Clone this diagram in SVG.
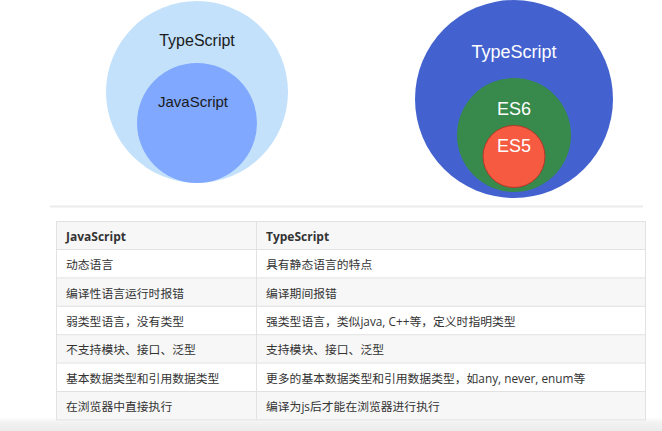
<svg xmlns="http://www.w3.org/2000/svg" width="662" height="431" viewBox="0 0 662 431">
<defs>
<style>
.cl{font-family:"Liberation Sans",Arial,sans-serif;text-anchor:middle}
.th{font-family:"Open Sans","Noto Sans CJK SC",sans-serif;font-weight:bold;font-size:12px;fill:#333}
.td{font-family:"Open Sans","Noto Sans CJK SC",sans-serif;font-size:11.8px;fill:#333}
.row-a{fill:#ffffff}
.row-b{fill:#f7f7f7}
.grid{stroke:#e2e2e2;stroke-width:1;fill:none}
</style>
<linearGradient id="fade" x1="0" y1="0" x2="0" y2="1">
<stop offset="0" stop-color="#ffffff"/>
<stop offset="0.4" stop-color="#f2f2f2"/>
<stop offset="1" stop-color="#ececec"/>
</linearGradient>
</defs>
<rect width="662" height="431" fill="#ffffff"/>
<rect x="0" y="417" width="662" height="14" fill="url(#fade)"/>

<g id="left-venn">
<circle cx="197" cy="92" r="91" fill="#c3e1fb"/>
<circle cx="197" cy="123" r="60" fill="#80a8fe"/>
<text class="cl" x="197" y="46" font-size="16" fill="#1a1a1a">TypeScript</text>
<text class="cl" x="193" y="107" font-size="15" fill="#1a1a1a">JavaScript</text>
</g>

<g id="right-venn">
<circle cx="514" cy="99" r="99" fill="#4362cf"/>
<circle cx="514" cy="135" r="57" fill="#378a4c"/>
<circle cx="514" cy="156.5" r="31" fill="#f65b42" stroke="#b3382a" stroke-width="1"/>
<text class="cl" x="514" y="58" font-size="18" fill="#ffffff">TypeScript</text>
<text class="cl" x="514" y="115" font-size="18" fill="#ffffff">ES6</text>
<text class="cl" x="514" y="152" font-size="18" fill="#ffffff">ES5</text>
</g>

<line x1="50" y1="206.5" x2="643" y2="206.5" stroke="#ebebeb" stroke-width="2"/>

<g id="table">
<rect x="56.5" y="221.5" width="589" height="28" class="row-b"/>
<rect x="56.5" y="249.5" width="589" height="28.4" class="row-a"/>
<rect x="56.5" y="277.9" width="589" height="28.4" class="row-b"/>
<rect x="56.5" y="306.3" width="589" height="28.4" class="row-a"/>
<rect x="56.5" y="334.7" width="589" height="28.4" class="row-b"/>
<rect x="56.5" y="363.1" width="589" height="28.4" class="row-a"/>
<rect x="56.5" y="391.5" width="589" height="28.4" class="row-b"/>
<rect x="56.5" y="221.5" width="589" height="198.4" class="grid"/>
<path class="grid" d="M256.5 221.5V419.9M56.5 249.5H645.5M56.5 277.9H645.5M56.5 306.3H645.5M56.5 334.7H645.5M56.5 363.1H645.5M56.5 391.5H645.5"/>
<text class="th" x="66" y="241">JavaScript</text>
<text class="th" x="266" y="241">TypeScript</text>
<text class="td" x="66" y="269">动态语言</text>
<text class="td" x="266" y="269">具有静态语言的特点</text>
<text class="td" x="66" y="297.5">编译性语言运行时报错</text>
<text class="td" x="266" y="297.5">编译期间报错</text>
<text class="td" x="66" y="326">弱类型语言，没有类型</text>
<text class="td" x="266" y="326">强类型语言，类似java, C++等，定义时指明类型</text>
<text class="td" x="66" y="354">不支持模块、接口、泛型</text>
<text class="td" x="266" y="354">支持模块、接口、泛型</text>
<text class="td" x="66" y="382.5">基本数据类型和引用数据类型</text>
<text class="td" x="266" y="382.5">更多的基本数据类型和引用数据类型，如any, never, enum等</text>
<text class="td" x="66" y="411">在浏览器中直接执行</text>
<text class="td" x="266" y="411">编译为js后才能在浏览器进行执行</text>
</g>
</svg>
